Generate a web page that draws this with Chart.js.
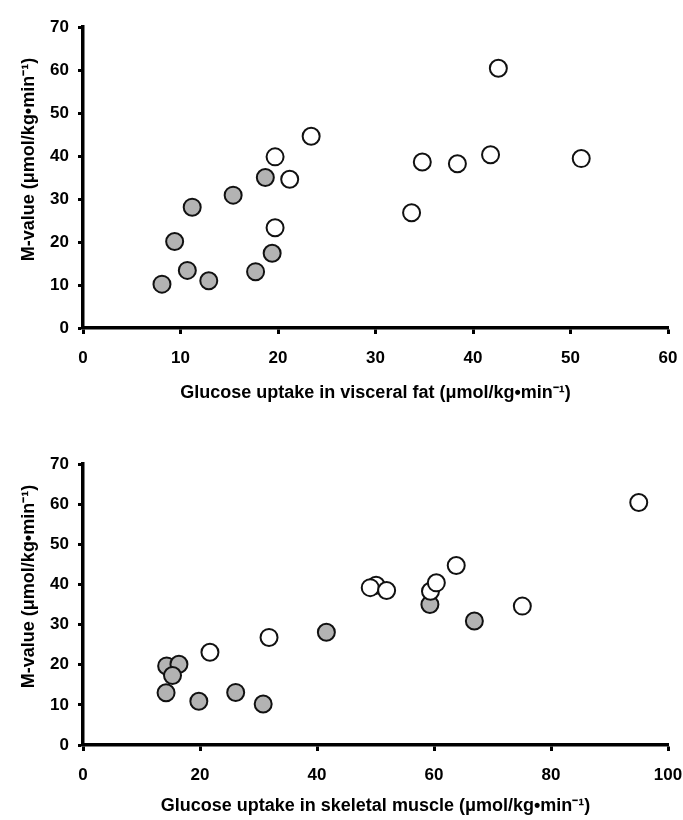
<!DOCTYPE html>
<html>
<head>
<meta charset="utf-8">
<script src="https://cdn.jsdelivr.net/npm/chart.js@4.4.0/dist/chart.umd.min.js"></script>
<style>
  html, body { margin:0; padding:0; background:#fff; }
  #wrap { position:relative; width:683px; height:820px; }
  .c { position:absolute; left:0; width:683px; height:410px; }
</style>
</head>
<body>
<div id="wrap">
  <div class="c" style="top:0"><canvas id="top"></canvas></div>
  <div class="c" style="top:410px"><canvas id="bottom"></canvas></div>
</div>
<script>
// Top panel: glucose uptake in visceral fat vs M-value
const fatGrayX   = [8.1, 9.4, 10.7, 12.9, 11.2, 15.4, 17.7, 19.4, 18.7];
const fatGrayY   = [10.2, 20.1, 13.4, 11.0, 28.1, 30.9, 13.1, 17.4, 35.0];
const fatOpenX   = [19.7, 21.2, 19.7, 23.4, 33.7, 34.8, 38.4, 41.8, 42.6, 51.1];
const fatOpenY   = [39.8, 34.6, 23.3, 44.6, 26.8, 38.6, 38.2, 40.3, 60.4, 39.4];
// Bottom panel: glucose uptake in skeletal muscle vs M-value
const musGrayX   = [14.3, 16.4, 15.3, 14.2, 19.8, 26.1, 30.8, 41.6, 59.3, 66.9];
const musGrayY   = [19.7, 20.1, 17.3, 13.0, 10.9, 13.1, 10.2, 28.1, 35.0, 30.9];
const musOpenX   = [21.7, 31.8, 50.1, 49.1, 51.9, 59.4, 60.4, 63.8, 75.1, 95.0];
const musOpenY   = [23.1, 26.8, 39.8, 39.2, 38.5, 38.3, 40.4, 44.7, 34.6, 60.4];

const yLabel = 'M-value (\u03bcmol/kg\u2022min\u207b\u00b9)';
const xLabelTop = 'Glucose uptake in visceral fat (\u03bcmol/kg\u2022min\u207b\u00b9)';
const xLabelBottom = 'Glucose uptake in skeletal muscle (\u03bcmol/kg\u2022min\u207b\u00b9)';

const pts = (xs, ys) => xs.map((x, i) => ({ x: x, y: ys[i] }));
const FONT = "'Liberation Sans', Arial, sans-serif";

// draws the rotated y-axis title, slightly above the axis centre as in the original
const yTitlePlugin = {
  id: 'yTitle',
  afterDraw(chart, args, opts) {
    const ctx = chart.ctx, a = chart.chartArea;
    ctx.save();
    ctx.translate(opts.x, (a.top + a.bottom) / 2 - opts.shift);
    ctx.rotate(-Math.PI / 2);
    ctx.font = "bold 18px " + FONT;
    ctx.fillStyle = '#000';
    ctx.textAlign = 'center';
    ctx.textBaseline = 'middle';
    ctx.fillText(opts.text, 0, 0);
    ctx.restore();
  }
};

function makeChart(id, gx, gy, ox, oy, xMax, xStep, xTitle, areaTop, areaBottom, titlePad, shift) {
  return new Chart(document.getElementById(id), {
    type: 'scatter',
    plugins: [yTitlePlugin],
    data: {
      datasets: [
        { label: 'open', data: pts(ox, oy), backgroundColor: '#ffffff', borderColor: '#111', borderWidth: 2, pointRadius: 8.5, pointHoverRadius: 8.5 },
        { label: 'gray', data: pts(gx, gy), backgroundColor: '#b3b3b3', borderColor: '#111', borderWidth: 2, pointRadius: 8.5, pointHoverRadius: 8.5 }
      ]
    },
    options: {
      responsive: true,
      maintainAspectRatio: false,
      animation: false,
      events: [],
      layout: { autoPadding: false, padding: { top: areaTop, right: 15, left: 0, bottom: 0 } },
      plugins: { legend: { display: false }, tooltip: { enabled: false },
                 yTitle: { text: yLabel, x: 29, shift: shift } },
      scales: {
        x: {
          type: 'linear', min: 0, max: xMax,
          border: { color: '#000', width: 3.5 },
          grid: { display: true, drawOnChartArea: false, drawTicks: true, tickLength: 6, tickColor: '#000', tickWidth: 3 },
          ticks: { stepSize: xStep, color: '#000', padding: 14, font: { family: FONT, size: 17, weight: 'bold' }, maxRotation: 0 },
          title: { display: true, text: xTitle, color: '#000', font: { family: FONT, size: 18, weight: 'bold' }, padding: { top: 0, bottom: titlePad } },
          afterFit: s => { s.height = 410 - areaBottom; s.paddingLeft = 0; s.paddingRight = 0; }
        },
        y: {
          type: 'linear', min: 0, max: 70,
          border: { color: '#000', width: 3.5 },
          grid: { display: true, drawOnChartArea: false, drawTicks: true, tickLength: 5, tickColor: '#000', tickWidth: 3 },
          ticks: { stepSize: 10, color: '#000', padding: 9, font: { family: FONT, size: 17, weight: 'bold' } },
          title: { display: false },
          afterFit: s => { s.width = 83; s.paddingTop = 0; s.paddingBottom = 0; }
        }
      }
    }
  });
}

makeChart('top', fatGrayX, fatGrayY, fatOpenX, fatOpenY, 60, 10, xLabelTop, 27, 328, 6, 18);
makeChart('bottom', musGrayX, musGrayY, musOpenX, musOpenY, 100, 20, xLabelBottom, 54, 335, 3, 18);
</script>
</body>
</html>
